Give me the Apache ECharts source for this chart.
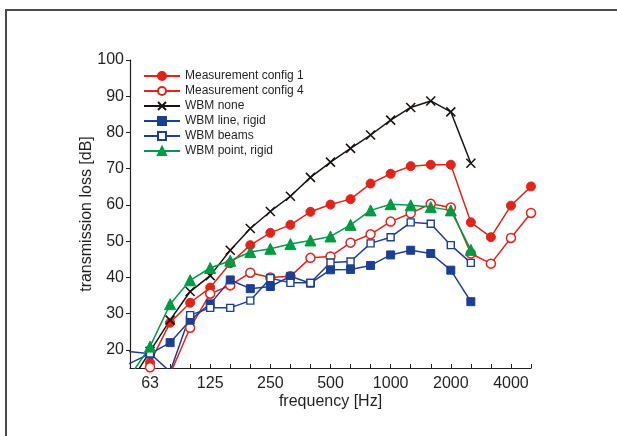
<!DOCTYPE html>
<html>
<head>
<meta charset="utf-8">
<script src="https://cdn.jsdelivr.net/npm/echarts@6/dist/echarts.min.js"></script>
<style>
html,body{margin:0;padding:0;background:#fff;}
#chart{width:617px;height:436px;}
</style>
</head>
<body>
<div id="chart"></div>
<script>
// Third-octave band centre frequencies (Hz); position index = array index - 1
var bands = [40, 50, 63, 80, 100, 125, 160, 200, 250, 315, 400, 500, 630, 800, 1000, 1250, 1600, 2000, 2500, 3150, 4000, 5000];
var tickLabels = ['63', '125', '250', '500', '1000', '2000', '4000'];

var measConfig1 = [null, null, 16.5, 27.5, 33.0, 37.2, 43.9, 48.9, 52.3, 54.5, 58.1, 60.1, 61.6, 65.9, 68.6, 70.7, 71.1, 71.1, 55.2, 51.1, 59.8, 65.1];
var measConfig4 = [null, null, 15.2, 13.3, 26.1, 35.5, 37.8, 41.3, 40.0, 40.3, 45.4, 45.8, 49.6, 51.9, 55.4, 57.7, 60.3, 59.3, 46.6, 43.8, 50.9, 57.8];
var wbmNone = [null, 10.8, 19.6, 28.2, 36.1, 40.5, 47.5, 53.5, 58.2, 62.4, 67.6, 71.8, 75.6, 79.3, 83.4, 86.9, 88.7, 85.7, 71.5, null, null, null];
var wbmLineRigid = [20.2, null, 18.9, 22.0, 28.2, 32.7, 39.3, 36.9, 37.5, 40.3, 38.4, 42.1, 42.2, 43.3, 46.2, 47.5, 46.6, 42.0, 33.3, null, null, null];
var wbmBeams = [13.6, null, 19.0, 14.0, 29.6, 31.6, 31.6, 33.6, 39.8, 38.5, 38.5, 44.1, 44.4, 49.4, 51.1, 55.2, 54.8, 48.9, 44.0, null, null, null];
var wbmPointRigid = [null, 12.8, 20.9, 32.6, 39.2, 42.6, 44.6, 47.0, 47.9, 49.2, 50.2, 51.3, 54.5, 58.5, 60.2, 59.9, 59.4, 58.5, 47.6, null, null, null];

var yTicks = [20, 30, 40, 50, 60, 70, 80, 90, 100];

function toData(vals) {
  var out = [];
  for (var i = 0; i < vals.length; i++) {
    if (vals[i] !== null) out.push([i - 1, vals[i]]);
  }
  return out;
}

var RED = '#e2231a', BLUE = '#1b3f94', GREEN = '#009a44', BLACK = '#1a1311', INK = '#231f20';
var xPath = 'path://M0,0L10,10M10,0L0,10';

function mk(name, vals, color, symbol, size, fill, bw) {
  return {
    name: name, type: 'line', data: toData(vals), clip: true,
    symbol: symbol, symbolSize: size, showAllSymbol: true,
    lineStyle: { color: color, width: 1.5 },
    itemStyle: { color: fill, borderColor: color, borderWidth: bw },
    emphasis: { disabled: true },
    animation: false, z: 3
  };
}

var chart = echarts.init(document.getElementById('chart'), null, { renderer: 'canvas' });
chart.setOption({
  animation: false,
  backgroundColor: '#fff',
  textStyle: { fontFamily: 'Liberation Sans, Arial, sans-serif' },
  graphic: [{
    type: 'rect', silent: true,
    shape: { x: 6, y: 10, width: 700, height: 600 },
    style: { fill: 'none', stroke: '#4a4a4a', lineWidth: 2 }
  }],
  grid: { left: 130, top: 60, right: 86, bottom: 68, containLabel: false },
  legend: {
    orient: 'vertical', left: 138, top: 65, padding: 5,
    itemWidth: 36, itemHeight: 10, itemGap: 3,
    textStyle: { fontSize: 12, color: INK, fontFamily: 'Liberation Sans, Arial, sans-serif' },
    data: ['Measurement config 1', 'Measurement config 4', 'WBM none', 'WBM line, rigid', 'WBM beams', 'WBM point, rigid']
  },
  xAxis: {
    type: 'value', min: 0, max: bands.length - 2, interval: 1,
    name: 'frequency [Hz]', nameLocation: 'middle', nameGap: 26, nameMoveOverlap: false,
    nameTextStyle: { fontSize: 16, color: INK },
    axisLine: { lineStyle: { color: INK, width: 1.2 } },
    axisTick: { inside: true, length: 4, lineStyle: { color: INK } },
    splitLine: { show: false },
    axisLabel: {
      fontSize: 16, color: INK, margin: 8,
      formatter: function (v) {
        var f = String(bands[v + 1]);
        return tickLabels.indexOf(f) >= 0 ? f : '';
      }
    }
  },
  yAxis: {
    type: 'value', min: 15, max: 100, interval: 5,
    name: 'transmission loss [dB]', nameLocation: 'middle', nameGap: 35, nameMoveOverlap: false,
    nameTextStyle: { fontSize: 16, color: INK },
    axisLine: { show: true, lineStyle: { color: INK, width: 1.2 } },
    axisTick: { show: true, length: 4, customValues: yTicks, lineStyle: { color: INK } },
    splitLine: { show: false },
    axisLabel: { fontSize: 16, color: INK, margin: 6, customValues: yTicks }
  },
  series: [
    mk('Measurement config 1', measConfig1, RED, 'circle', 9, RED, 1),
    mk('Measurement config 4', measConfig4, RED, 'circle', 9, '#fff', 1.5),
    mk('WBM none', wbmNone, BLACK, xPath, 9, BLACK, 1.6),
    mk('WBM line, rigid', wbmLineRigid, BLUE, 'rect', 8, BLUE, 1),
    mk('WBM beams', wbmBeams, BLUE, 'rect', 7, '#fff', 1.4),
    mk('WBM point, rigid', wbmPointRigid, GREEN, 'triangle', 11, GREEN, 1)
  ]
});
</script>
</body>
</html>
